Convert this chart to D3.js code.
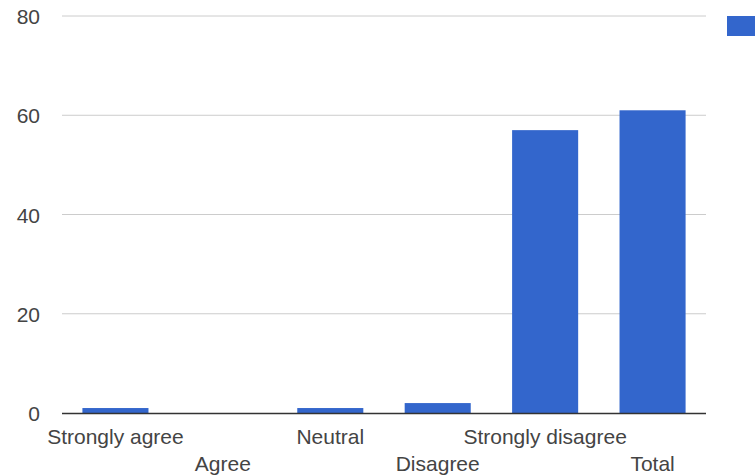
<!DOCTYPE html>
<html><head><meta charset="utf-8">
<script src="https://cdn.jsdelivr.net/npm/d3@7"></script>
<style>body{margin:0;background:#fff;overflow:hidden}svg{display:block}</style>
</head><body>
<svg id="c" width="755" height="475"></svg>
<script>
const categories = ["Strongly agree","Agree","Neutral","Disagree","Strongly disagree","Total"];
const values = [1, 0, 1, 2, 57, 61];
const yTicks = [0, 20, 40, 60, 80];

(function () {
const svg = d3.select("#c");
const mLeft = 62, mRight = 706, mTop = 16, mBottom = 413;
const x = d3.scaleBand().domain(categories).range([mLeft, mRight]).paddingInner(0.385).paddingOuter(0.19);
const y = d3.scaleLinear().domain([0, 80]).range([mBottom, mTop]);
const font = "'Liberation Sans', Arial, sans-serif";

svg.append("g").selectAll("line").data(yTicks.filter(d => d > 0)).join("line")
  .attr("x1", mLeft).attr("x2", mRight)
  .attr("y1", d => y(d)).attr("y2", d => y(d))
  .attr("stroke", "#cccccc").attr("stroke-width", 1);

svg.append("g").selectAll("text").data(yTicks).join("text")
  .attr("x", 40).attr("y", d => y(d) + 8)
  .attr("text-anchor", "end")
  .attr("font-family", font).attr("font-size", 21).attr("fill", "#444")
  .text(d => d);

svg.append("g").selectAll("rect").data(values).join("rect")
  .attr("x", (d, i) => x(categories[i]))
  .attr("width", x.bandwidth())
  .attr("y", d => y(d))
  .attr("height", d => mBottom - y(d))
  .attr("fill", "#3366cc");

svg.append("line").attr("x1", mLeft).attr("x2", mRight)
  .attr("y1", mBottom + 0.5).attr("y2", mBottom + 0.5)
  .attr("stroke", "#333").attr("stroke-width", 1.5);

svg.append("g").selectAll("text").data(categories).join("text")
  .attr("x", d => x(d) + x.bandwidth() / 2)
  .attr("y", (d, i) => i % 2 === 0 ? 444 : 471)
  .attr("text-anchor", "middle")
  .attr("font-family", font).attr("font-size", 21).attr("fill", "#444")
  .text(d => d);

svg.append("rect").attr("x", 727).attr("y", 16).attr("width", 40).attr("height", 20).attr("fill", "#3366cc");
})();
</script>
</body></html>
